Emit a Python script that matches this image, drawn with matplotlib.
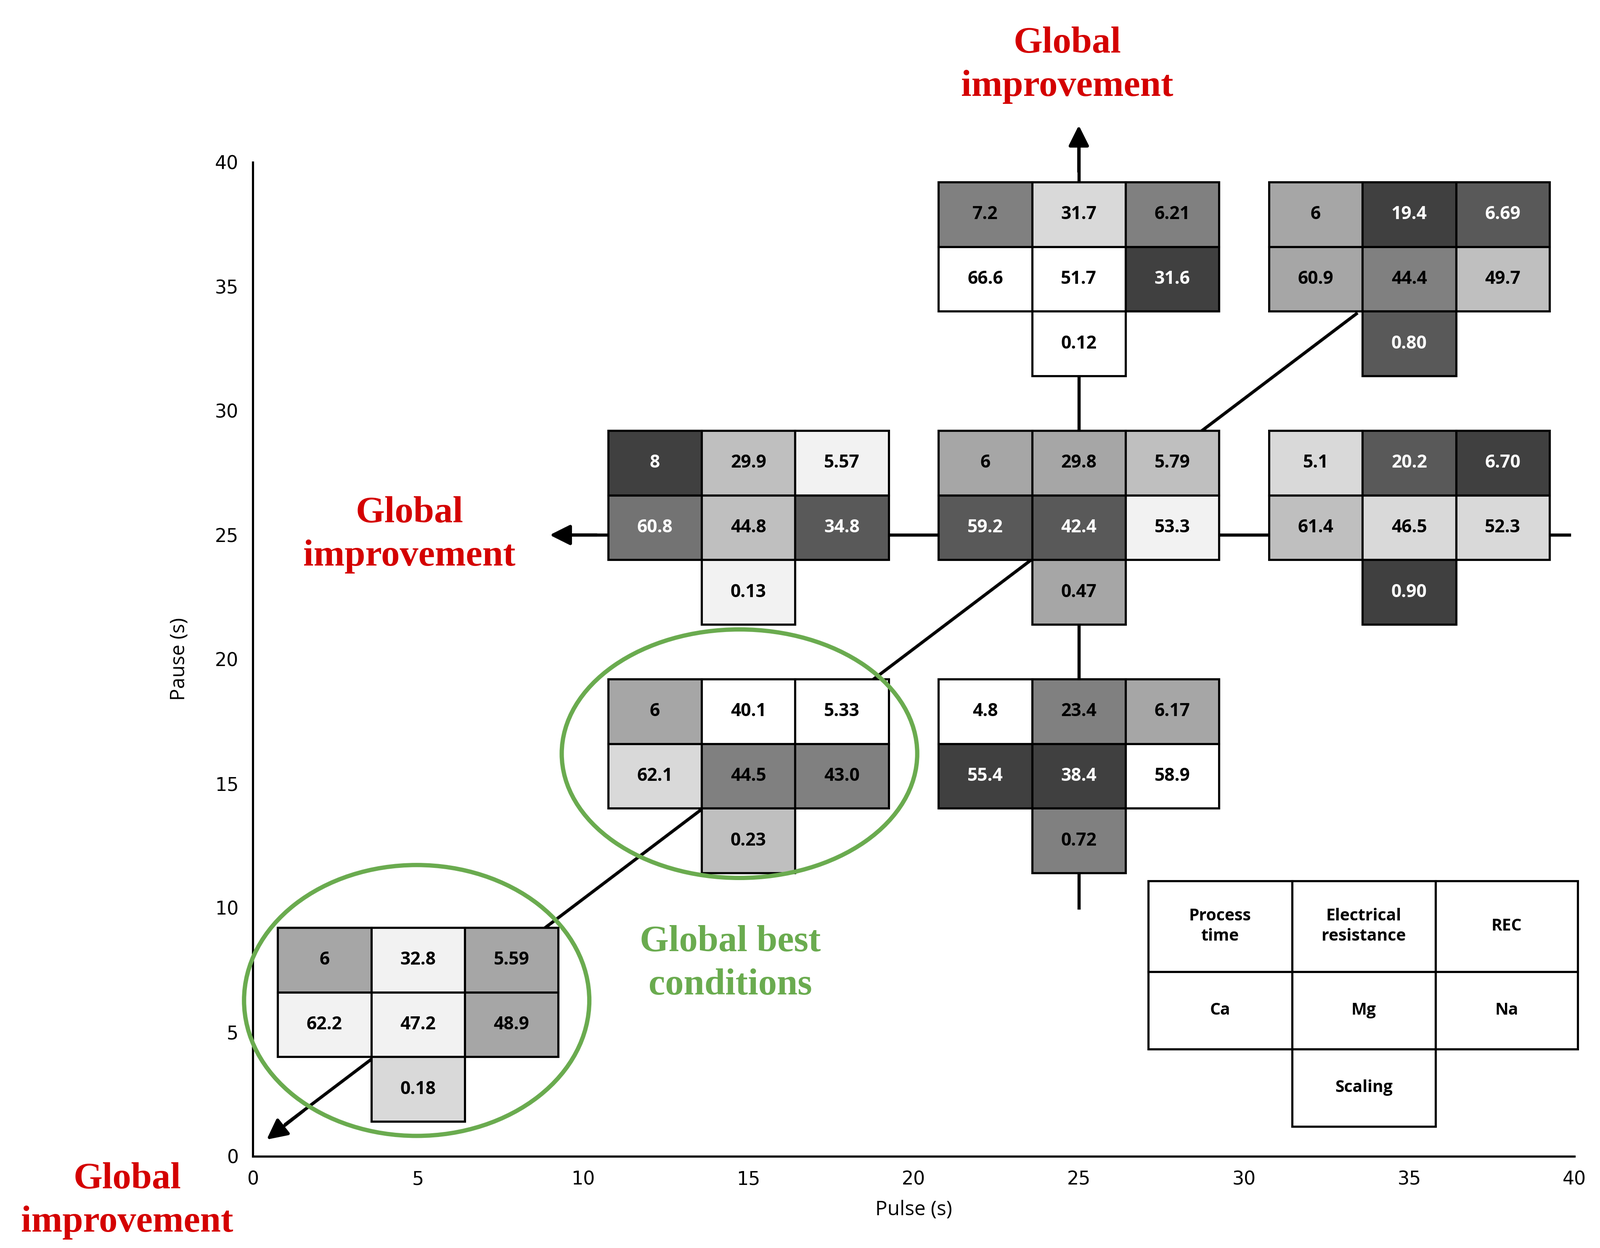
import matplotlib
matplotlib.use("Agg")
import matplotlib.pyplot as plt
from matplotlib.patches import Rectangle, Ellipse

pulse = [25, 35, 15, 25, 35, 15, 25, 5]
pause = [35, 35, 25, 25, 25, 15, 15, 5]
# order: process time, electrical resistance, REC, Ca, Mg, Na, Scaling
labels = [
    ["7.2", "31.7", "6.21", "66.6", "51.7", "31.6", "0.12"],
    ["6", "19.4", "6.69", "60.9", "44.4", "49.7", "0.80"],
    ["8", "29.9", "5.57", "60.8", "44.8", "34.8", "0.13"],
    ["6", "29.8", "5.79", "59.2", "42.4", "53.3", "0.47"],
    ["5.1", "20.2", "6.70", "61.4", "46.5", "52.3", "0.90"],
    ["6", "40.1", "5.33", "62.1", "44.5", "43.0", "0.23"],
    ["4.8", "23.4", "6.17", "55.4", "38.4", "58.9", "0.72"],
    ["6", "32.8", "5.59", "62.2", "47.2", "48.9", "0.18"],
]
shades = [
    ["#808080", "#d9d9d9", "#808080", "#ffffff", "#ffffff", "#404040", "#ffffff"],
    ["#a6a6a6", "#404040", "#595959", "#a6a6a6", "#808080", "#bfbfbf", "#595959"],
    ["#404040", "#bfbfbf", "#f2f2f2", "#737373", "#bfbfbf", "#595959", "#f2f2f2"],
    ["#a6a6a6", "#a6a6a6", "#bfbfbf", "#595959", "#595959", "#f2f2f2", "#a6a6a6"],
    ["#d9d9d9", "#595959", "#404040", "#bfbfbf", "#d9d9d9", "#d9d9d9", "#404040"],
    ["#a6a6a6", "#ffffff", "#ffffff", "#d9d9d9", "#808080", "#808080", "#bfbfbf"],
    ["#ffffff", "#808080", "#a6a6a6", "#404040", "#404040", "#ffffff", "#808080"],
    ["#a6a6a6", "#f2f2f2", "#a6a6a6", "#f2f2f2", "#f2f2f2", "#a6a6a6", "#d9d9d9"],
]
legend_labels = ["Process\ntime", "Electrical\nresistance", "REC", "Ca", "Mg", "Na", "Scaling"]
ticks = [0, 5, 10, 15, 20, 25, 30, 35, 40]

fig = plt.figure(figsize=(3804/245, 2968/245), dpi=245)
ax = fig.add_axes([0.158, 0.0735, 0.826, 0.7965])
ax.set_xlim(0, 40); ax.set_ylim(0, 40)
for s in ["top", "right"]:
    ax.spines[s].set_visible(False)
for s in ["left", "bottom"]:
    ax.spines[s].set_linewidth(1.5)
ax.set_xticks(ticks); ax.set_yticks(ticks)
ax.tick_params(length=0, labelsize=13, pad=10)
ax.set_xlabel("Pulse (s)", fontsize=14, labelpad=8, family="Open Sans")
ax.set_ylabel("Pause (s)", fontsize=14, labelpad=18, family="Open Sans")

lk = dict(color="black", lw=2.2, zorder=1, clip_on=False)
ax.plot([9.6, 39.85], [25, 25], **lk)
ax.plot([25, 25], [10, 40.8], **lk)
ax.plot([1.0, 33.4], [1.3, 33.9], **lk)
ak = dict(arrowprops=dict(arrowstyle="-|>,head_length=1.2,head_width=0.6", color="black", lw=2.2), annotation_clip=False)
ax.annotate("", xy=(8.9, 25), xytext=(10.5, 25), **ak)
ax.annotate("", xy=(25, 41.6), xytext=(25, 39.5), **ak)
ax.annotate("", xy=(0.35, 0.6), xytext=(1.6, 1.9), **ak)

cw, ch = 2.83, 2.6
offsets = [(-1, 1), (0, 1), (1, 1), (-1, 0), (0, 0), (1, 0), (0, -1)]
for px, py, labs, cols in zip(pulse, pause, labels, shades):
    for (dx, dy), t, c in zip(offsets, labs, cols):
        cx, cy = px + dx*cw, py + 0.3 + dy*ch
        ax.add_patch(Rectangle((cx - cw/2, cy - ch/2), cw, ch, facecolor=c,
                               edgecolor="black", lw=1.5, zorder=3))
        tc = "white" if c in ("#404040", "#595959", "#737373") else "black"
        ax.text(cx, cy, t, ha="center", va="center", fontsize=12.5, fontweight="bold",
                color=tc, zorder=4, family="Open Sans")

xs = [27.1, 31.45, 35.8, 40.1]
ys = [11.08, 7.43, 4.32, 1.2]
for i, t in enumerate(legend_labels):
    if i < 6:
        c, r = i % 3, i // 3
    else:
        c, r = 1, 2
    ax.add_patch(Rectangle((xs[c], ys[r+1]), xs[c+1]-xs[c], ys[r]-ys[r+1], facecolor="white",
                           edgecolor="black", lw=1.5, zorder=3, clip_on=False))
    ax.text((xs[c]+xs[c+1])/2, (ys[r]+ys[r+1])/2, t, ha="center", va="center",
            fontsize=11.5, fontweight="bold", zorder=4, family="Open Sans", linespacing=1.3)

green = "#6aab4f"
ax.add_patch(Ellipse((4.96, 6.27), 10.45, 10.9, fill=False, edgecolor=green, lw=3, zorder=5, clip_on=False))
ax.add_patch(Ellipse((14.73, 16.2), 10.76, 10.0, fill=False, edgecolor=green, lw=3, zorder=5))
rk = dict(ha="center", va="center", fontsize=26, fontweight="bold", color="#d40000",
          family="Liberation Serif", linespacing=1.35)
ax.text(24.65, 43.9, "Global\nimprovement", clip_on=False, **rk)
ax.text(4.74, 25.0, "Global\nimprovement", **rk)
ax.text(-3.8, -1.8, "Global\nimprovement", clip_on=False, **rk)
ax.text(14.45, 7.75, "Global best\nconditions", ha="center", va="center", fontsize=26,
        fontweight="bold", color=green, family="Liberation Serif", linespacing=1.35)

fig.savefig("out.png")
